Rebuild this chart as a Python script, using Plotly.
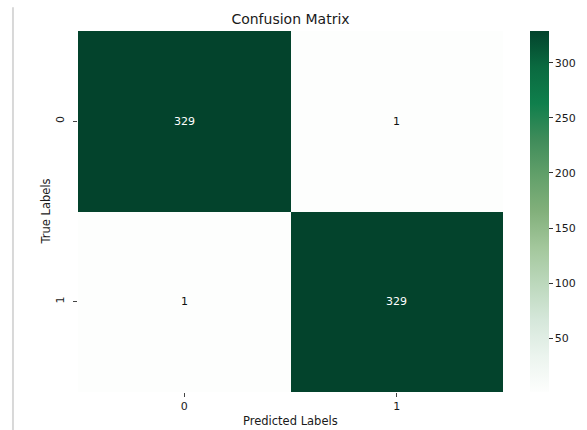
import plotly.graph_objects as go

# Confusion matrix counts (rows: true label, columns: predicted label)
class_labels = ["0", "1"]
counts = [[329, 1],
          [1, 329]]
colorbar_ticks = [50, 100, 150, 200, 250, 300]

# Greens-style sequential colour scale
greens = [
    [0.00, "#fdfefd"], [0.10, "#ebf4ee"], [0.20, "#d5e7da"],
    [0.30, "#bcd8bc"], [0.40, "#a3c79c"], [0.50, "#82b07b"],
    [0.60, "#62a06a"], [0.70, "#3f8c5a"], [0.80, "#0f7f4c"],
    [0.90, "#0a6a40"], [1.00, "#03432c"],
]

flat = [v for row in counts for v in row]
zmin, zmax = min(flat), max(flat)
FONT = "DejaVu Sans"
TXT = "#1a1a1a"

fig = go.Figure(go.Heatmap(
    z=counts, x=class_labels, y=class_labels,
    colorscale=greens, zmin=zmin, zmax=zmax,
    xgap=0, ygap=0, hoverinfo="z",
    colorbar=dict(
        thickness=19, len=1.0, lenmode="fraction", y=0.5, yanchor="middle",
        x=1.0635, xanchor="left", xpad=0, ypad=0, outlinewidth=0,
        tickvals=colorbar_ticks, ticks="outside", ticklen=4, tickwidth=1,
        tickcolor="#333", tickfont=dict(family=FONT, size=11, color=TXT),
    ),
))

# value annotations inside cells, white on dark cells and black on light ones
mid = (zmin + zmax) / 2
for i, yl in enumerate(class_labels):
    for j, xl in enumerate(class_labels):
        v = counts[i][j]
        fig.add_annotation(
            x=xl, y=yl, text=str(v), showarrow=False,
            font=dict(family=FONT, size=11, color="white" if v > mid else "#111"),
        )

# axis titles
fig.add_annotation(text="Predicted Labels", xref="paper", yref="paper",
                   x=0.5, y=0, yshift=-29, yanchor="middle", showarrow=False,
                   font=dict(family=FONT, size=11.5, color=TXT))
fig.add_annotation(text="True Labels", xref="paper", yref="paper",
                   x=0, y=0.5, xshift=-33, xanchor="center", textangle=-90,
                   showarrow=False, font=dict(family=FONT, size=11.5, color=TXT))

# thin grey frame line along the left edge of the figure
fig.add_shape(type="line", xref="paper", yref="paper",
              x0=-0.153, x1=-0.153, y0=1.066, y1=-0.11,
              line=dict(color="#d8d8d8", width=2))

fig.update_layout(
    width=587, height=430,
    margin=dict(l=78, r=84, t=31, b=38, autoexpand=False),
    paper_bgcolor="white", plot_bgcolor="white",
    font=dict(family=FONT, color=TXT),
    title=dict(text="Confusion Matrix", x=0.5, xref="paper", xanchor="center",
               y=1 - 19 / 430, yref="container", yanchor="middle",
               font=dict(family=FONT, size=14, color=TXT)),
    xaxis=dict(type="category", ticks="outside", ticklen=4, tickcolor="#444",
               showgrid=False, zeroline=False, showline=False,
               tickfont=dict(family=FONT, size=11, color=TXT)),
    yaxis=dict(type="category", autorange="reversed", ticks="outside", ticklen=4,
               tickcolor="#444", tickangle=-90, showgrid=False, zeroline=False,
               showline=False, ticklabelstandoff=5,
               tickfont=dict(family=FONT, size=11, color=TXT)),
)

fig.write_html("out.html")
